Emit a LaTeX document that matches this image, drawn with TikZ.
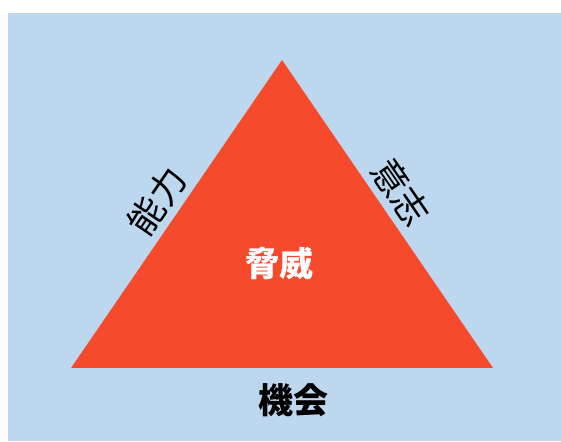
\documentclass[tikz,border=0pt]{standalone}
\usepackage{fontspec}
\newfontfamily\cjk{Noto Sans CJK JP}
\definecolor{myBlue}{RGB}{189, 215, 238}
\definecolor{myRed}{RGB}{245, 74, 44}
\begin{document}
\begin{tikzpicture}[x = 1pt, y = 1pt,
    label/.style = {inner sep = 0pt, font = \cjk\fontsize{36}{42}\selectfont}]
  % Bounding box
  \useasboundingbox (0, 0) rectangle (561, 441);
  % Hintergrund
  \fill [myBlue] (8, 0) rectangle (561, 428);
  % Dreieck
  \coordinate (spitze) at (282, 381);
  \coordinate (links) at (71, 73);
  \coordinate (rechts) at (493, 73);
  \fill [myRed] (links) -- (spitze) -- (rechts) -- cycle;
  % Beschriftung
  \node (bedrohung) [label, text = white, font = \cjk\bfseries\fontsize{34}{40}\selectfont] at (279, 178) {脅威};
  \node (gelegenheit) [label, font = \cjk\bfseries\fontsize{35}{40}\selectfont] at (293, 41) {機会};
  \node (faehigkeit) [label, rotate = 55.6] at (157, 240) {能力};
  \node (absicht) [label, rotate = -55.6] at (401, 249) {意志};
\end{tikzpicture}
\end{document}
